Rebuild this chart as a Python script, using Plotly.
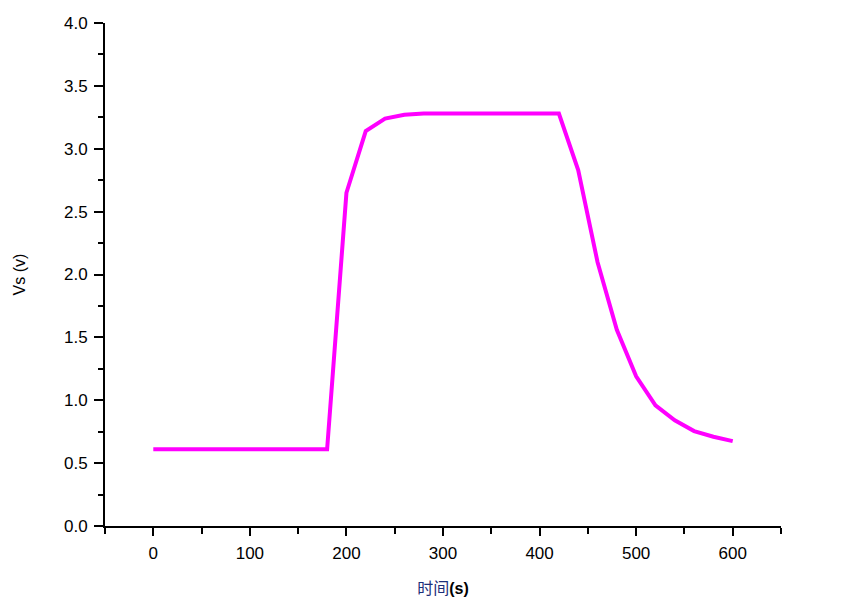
import plotly.graph_objects as go

time_s = [0, 20, 40, 60, 80, 100, 120, 140, 160, 180, 200, 220, 240, 260, 280, 300,
          320, 340, 360, 380, 400, 420, 440, 460, 480, 500, 520, 540, 560, 580, 600]
vs = [0.61, 0.61, 0.61, 0.61, 0.61, 0.61, 0.61, 0.61, 0.61, 0.61, 2.65, 3.14, 3.24, 3.27, 3.28, 3.28,
      3.28, 3.28, 3.28, 3.28, 3.28, 3.28, 2.83, 2.10, 1.56, 1.19, 0.96, 0.84, 0.755, 0.71, 0.675]

x_tickvals = [0, 100, 200, 300, 400, 500, 600]
x_ticktext = ["0", "100", "200", "300", "400", "500", "600"]
y_tickvals = [0, 0.5, 1.0, 1.5, 2.0, 2.5, 3.0, 3.5, 4.0]
y_ticktext = ["0.0", "0.5", "1.0", "1.5", "2.0", "2.5", "3.0", "3.5", "4.0"]

fig = go.Figure()
fig.add_trace(go.Scatter(x=time_s, y=vs, mode="lines",
                         line=dict(color="#FF00FF", width=4), showlegend=False))

font_main = "Liberation Sans, Arial, sans-serif"
# page body has an 8px default margin, so the figure is shrunk by 8px and margins shifted
fig.update_layout(
    width=846, height=605,
    margin=dict(l=97, r=73, t=15, b=87, autoexpand=False),
    paper_bgcolor="white", plot_bgcolor="white",
    font=dict(family=font_main, size=17, color="black"),
    xaxis=dict(
        range=[-50, 650], tickvals=x_tickvals, ticktext=x_ticktext,
        automargin=False,
        showline=True, linecolor="black", linewidth=2, mirror=False,
        ticks="outside", ticklen=8, tickwidth=2, tickcolor="black",
        ticklabelstandoff=3,
        minor=dict(tick0=-50, dtick=50, ticks="outside", ticklen=6, tickwidth=2, tickcolor="black", showgrid=False),
        showgrid=False, zeroline=False,
        tickfont=dict(family=font_main, size=17),
        title=dict(text="<span style='font-family:Noto Sans CJK SC;color:#1c2f7a;font-weight:normal'>时间</span><b>(s)</b>",
                   font=dict(family=font_main, size=16), standoff=20),
    ),
    yaxis=dict(
        range=[0, 4], tickvals=y_tickvals, ticktext=y_ticktext,
        automargin=False,
        showline=True, linecolor="black", linewidth=2, mirror=False,
        ticks="outside", ticklen=9, tickwidth=2, tickcolor="black",
        ticklabelstandoff=3,
        minor=dict(dtick=0.25, ticks="outside", ticklen=5, tickwidth=2, tickcolor="black", showgrid=False),
        showgrid=False, zeroline=False,
        tickfont=dict(family=font_main, size=17),
        title=dict(text="Vs (v)", font=dict(family=font_main, size=16), standoff=34),
    ),
)

fig.write_html("out.html")
